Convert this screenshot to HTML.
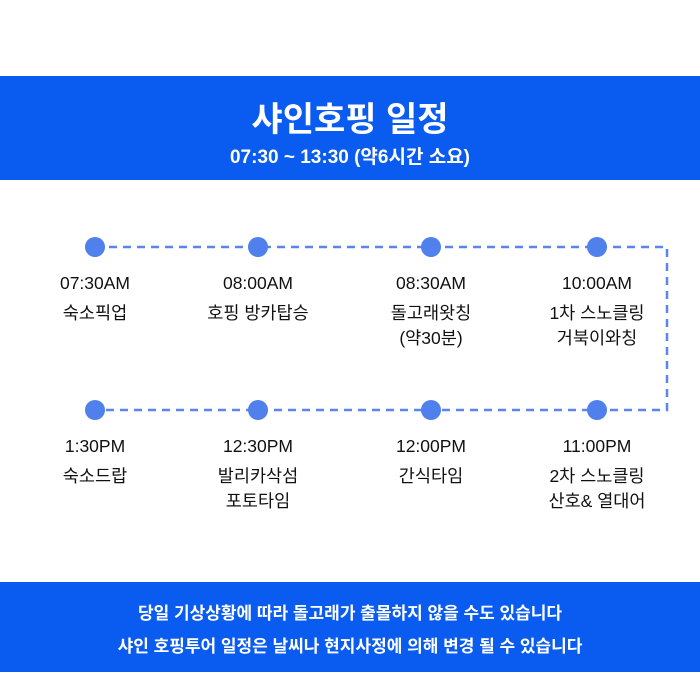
<!DOCTYPE html>
<html><head><meta charset="utf-8"><style>
body{margin:0;width:700px;height:674px;background:#fff;position:relative;overflow:hidden;font-family:"Liberation Sans","Noto Sans CJK KR",sans-serif;}
.band{position:absolute;left:0;width:700px;background:#0a5cf0;color:#fff;text-align:center;}
.t{position:absolute;width:180px;text-align:center;font-size:17.5px;color:#111;line-height:25px;}
</style></head><body>
<div class="band" style="top:76px;height:104px;">
<div style="position:absolute;top:22px;width:700px;font-size:34px;font-weight:bold;line-height:44px;">샤인호핑 일정</div>
<div style="position:absolute;top:66px;width:700px;font-size:19px;font-weight:bold;">07:30 ~ 13:30 (약6시간 소요)</div>
</div>
<svg width="700" height="674" style="position:absolute;left:0;top:0">
<g stroke="#5a86ea" stroke-width="2.5" stroke-dasharray="8,6" fill="none">
<path d="M95 247 H667 V410 H95"/>
</g>
<g fill="#4f80ec">
<circle cx="95" cy="247" r="10"/><circle cx="258" cy="247" r="10"/><circle cx="431" cy="247" r="10"/><circle cx="597" cy="247" r="10"/>
<circle cx="95" cy="410" r="10"/><circle cx="258" cy="410" r="10"/><circle cx="431" cy="410" r="10"/><circle cx="597" cy="410" r="10"/>
</g>
</svg>
<div class="t" style="left:5px;top:271px">07:30AM<div style="margin-top:5px">숙소픽업</div></div>
<div class="t" style="left:168px;top:271px">08:00AM<div style="margin-top:5px">호핑 방카탑승</div></div>
<div class="t" style="left:341px;top:271px">08:30AM<div style="margin-top:5px">돌고래왓칭<br>(약30분)</div></div>
<div class="t" style="left:507px;top:271px">10:00AM<div style="margin-top:5px">1차 스노클링<br>거북이와칭</div></div>
<div class="t" style="left:5px;top:434px">1:30PM<div style="margin-top:5px">숙소드랍</div></div>
<div class="t" style="left:168px;top:434px">12:30PM<div style="margin-top:5px">발리카삭섬<br>포토타임</div></div>
<div class="t" style="left:341px;top:434px">12:00PM<div style="margin-top:5px">간식타임</div></div>
<div class="t" style="left:507px;top:434px">11:00PM<div style="margin-top:5px">2차 스노클링<br>산호&amp; 열대어</div></div>
<div class="band" style="top:582px;height:90px;font-size:17px;font-weight:bold;">
<div style="position:absolute;top:17px;width:700px;">당일 기상상황에 따라 돌고래가 출몰하지 않을 수도 있습니다</div>
<div style="position:absolute;top:50px;width:700px;">샤인 호핑투어 일정은 날씨나 현지사정에 의해 변경 될 수 있습니다</div>
</div>
</body></html>
